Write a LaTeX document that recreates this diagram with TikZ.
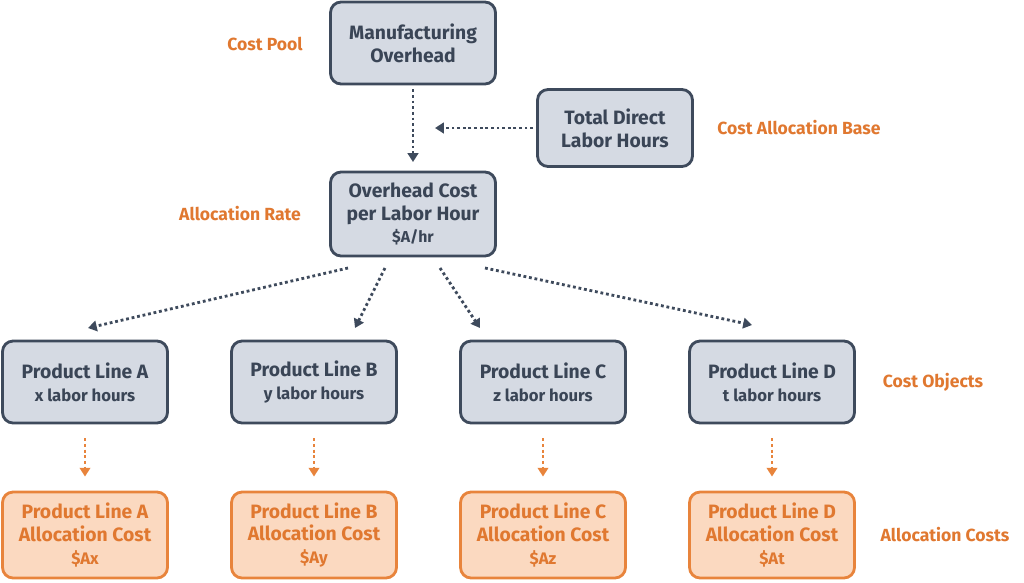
\documentclass[tikz,border=0pt]{standalone}
\usepackage{fontspec}
\setmainfont{Fira Sans}
\usetikzlibrary{arrows.meta}
\definecolor{bfill}{HTML}{D5DAE3}
\definecolor{bdraw}{HTML}{3E4A5C}
\definecolor{btext}{HTML}{3A4556}
\definecolor{ofill}{HTML}{FBD9C0}
\definecolor{odraw}{HTML}{E8843C}
\definecolor{otext}{HTML}{E07830}
\tikzset{
 x=0.02cm,y=-0.02cm,
 gbox/.style={draw=bdraw,fill=bfill,line width=1.6pt,rounded corners=6pt,minimum width=3.3cm,minimum height=1.64cm,align=center,text=btext,font=\fontsize{11}{13}\selectfont\bfseries,inner sep=2pt},
 obox/.style={gbox,draw=odraw,fill=ofill,text=otext},
 lbl/.style={text=otext,font=\fontsize{10}{12}\selectfont\bfseries},
 garr/.style={draw=bdraw,line width=1.6pt,dash pattern=on 1.6pt off 1.6pt,-{Triangle[length=5pt,width=6pt]}},
 oarr/.style={garr,draw=odraw,-{Triangle[length=5pt,width=6pt,fill=odraw]}},
}
\begin{document}
\begin{tikzpicture}
\useasboundingbox (0,0) rectangle (1024,582);
\node[gbox] (mo) at (413,43) {Manufacturing\\Overhead};
\node[gbox,minimum width=3.1cm,minimum height=1.54cm] (tl) at (615,128) {Total Direct\\Labor Hours};
\node[gbox,minimum height=1.68cm] (oc) at (413,214) {Overhead Cost\\per Labor Hour\\{\fontsize{9}{11}\selectfont \$A/hr}};
\node[lbl] at (265,44) {Cost Pool};
\node[lbl] at (799,128) {Cost Allocation Base};
\node[lbl] at (240,214) {Allocation Rate};
\node[lbl] at (933,382) {Cost Objects};
\node[lbl] at (945,535) {Allocation Costs};
\coordinate (mid) at (435,128);
\draw[garr] (mo.south)++(0,4) coordinate (s1) -- (413,162);
\draw[garr] (tl.west) ++(-3,0) -- (mid);
\foreach \n/\x/\l/\s in {a/85/A/x,b/314/B/y,c/543/C/z,d/772/D/t}{
 \node[gbox] (p\n) at (\x,382) {Product Line \l\\{\fontsize{9.5}{13}\selectfont \s\ labor hours}};
 \node[obox,minimum height=1.72cm] (q\n) at (\x,535) {Product Line \l\\Allocation Cost\\{\fontsize{9.5}{11}\selectfont \$A\s}};
 \draw[oarr] ([yshift=-8pt]p\n.south) -- ([yshift=8pt]q\n.north);
}
\draw[garr] (348,268) -- (88,328);
\draw[garr] (385,268) -- (355,328);
\draw[garr] (440,268) -- (480,328);
\draw[garr] (485,268) -- (752,325);
\end{tikzpicture}
\end{document}
